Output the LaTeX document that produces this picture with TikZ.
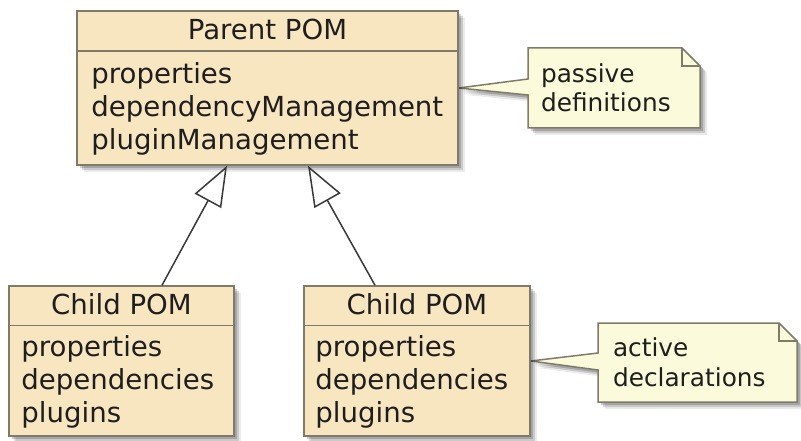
\documentclass[tikz,border=0pt]{standalone}
\usepackage{fontspec}
\setmainfont{DejaVu Sans}
\usetikzlibrary{arrows.meta,shadows,backgrounds}
\definecolor{pomfill}{RGB}{248,230,193}
\definecolor{pomline}{RGB}{128,122,106}
\definecolor{notefill}{RGB}{251,251,220}
\definecolor{linkgray}{RGB}{56,56,56}
\definecolor{inkgray}{RGB}{30,30,30}

\begin{document}
\begin{tikzpicture}
        [
        x=1pt, y=-1pt,
        SoftShadow/.style={drop shadow={shadow xshift=3pt, shadow yshift=-3pt, opacity=0.18, fill=black}, drop shadow={shadow xshift=5pt, shadow yshift=-5pt, opacity=0.14, fill=black}, drop shadow={shadow xshift=7pt, shadow yshift=-7pt, opacity=0.08, fill=black}},
        PomBox/.style={rectangle, draw=pomline, fill=pomfill, line width=1.5pt, inner sep=0pt, SoftShadow},
            PomRule/.style={draw=pomline, line width=1.5pt},
			PomTitle/.style={anchor=base, inner sep=0pt, text=inkgray, font=\fontsize{27.6}{33}\selectfont},
			PomBody/.style={anchor=base west, align=left, inner sep=0pt, text=inkgray, font=\fontsize{27.6}{33}\selectfont},
			NoteText/.style={rectangle, align=left, inner ysep=0pt, outer sep=0pt, text=inkgray, font=\fontsize{24.8}{29.5}\selectfont},
			NoteBox/.style={draw=pomline, fill=notefill, line width=1.5pt, line join=miter, SoftShadow},
			NoteFold/.style={draw=pomline, line width=1.5pt},
			Extends/.style={draw=linkgray, line width=1.5pt, -{Triangle[open, length=40pt, width=30pt]}},
        ]

        \useasboundingbox (0,0) rectangle (801,441);

        \node[PomBox, minimum width=381pt, minimum height=154pt] (parent) at (267.5,88){};
		\draw[PomRule] ([yshift=-41pt]parent.north west) -- ([yshift=-41pt]parent.north east);
        \node[PomTitle] (parenttitle) at ([yshift=-29pt]parent.north){Parent POM};
		\node[PomBody] (parentbody) at ([xshift=15pt, yshift=-139pt]parent.north west){properties\\dependencyManagement\\pluginManagement};

\node[PomBox, minimum width=225pt, minimum height=150pt] (child1) at (121.5,361){};
\draw[PomRule] ([yshift=-40pt]child1.north west) -- ([yshift=-40pt]child1.north east);
\node[PomTitle] (child1title) at ([yshift=-29pt]child1.north){Child POM};
\node[PomBody] (child1body) at ([xshift=13pt, yshift=-137pt]child1.north west){properties\\dependencies\\plugins};

\node[PomBox, minimum width=226pt, minimum height=150pt] (child2) at (417,361){};
\draw[PomRule] ([yshift=-40pt]child2.north west) -- ([yshift=-40pt]child2.north east);
\node[PomTitle] (child2title) at ([yshift=-29pt]child2.north){Child POM};
\node[PomBody] (child2body) at ([xshift=12pt, yshift=-137pt]child2.north west){properties\\dependencies\\plugins};

\node[NoteText, inner xsep=13pt, text width=146pt, minimum width=172pt, minimum height=80pt] (passive) at (614,88){passive\\definitions};
\node[NoteText, inner xsep=15pt, text width=169pt, minimum width=199pt, minimum height=79pt] (active) at (697.5,362.5){active\\declarations};

\begin{scope}[on background layer]
\path[NoteBox] (passive.north west) -- ([xshift=-18pt]passive.north east) -- ([yshift=-18pt]passive.north east) -- (passive.south east) -- (passive.south west) -- ([yshift=-7pt]passive.west) -- (parent.east) -- ([yshift=9pt]passive.west) -- cycle;
\draw[NoteFold] ([xshift=-18pt]passive.north east) |- ([yshift=-18pt]passive.north east);
\path[NoteBox] (active.north west) -- ([xshift=-18pt]active.north east) -- ([yshift=-18pt]active.north east) -- (active.south east) -- (active.south west) -- ([yshift=-7.5pt]active.west) -- (child2.east) -- ([yshift=9.5pt]active.west) -- cycle;
\draw[NoteFold] ([xshift=-18pt]active.north east) |- ([yshift=-18pt]active.north east);
\end{scope}

\draw[Extends] ([xshift=40.5pt]child1.north) -- ([xshift=-40.5pt]parent.south);
\draw[Extends] ([xshift=-42pt]child2.north) -- ([xshift=40.5pt]parent.south);

    \end{tikzpicture}
\end{document}
